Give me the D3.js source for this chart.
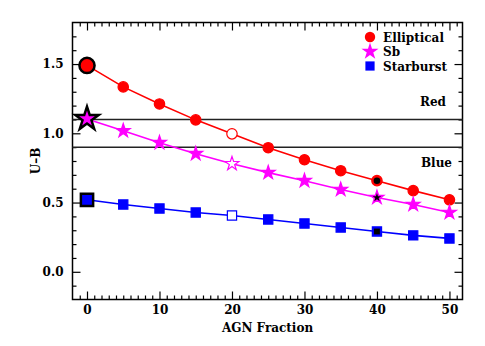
<!doctype html>
<html>
<head>
<script src="https://d3js.org/d3.v7.min.js"></script>
<style>
  body { margin: 0; background: #fff; }
  text { font-family: "DejaVu Serif", serif; font-weight: bold; }
  .domain { display: none; }
</style>
</head>
<body>
<svg id="chart" width="485" height="346"></svg>
<script>
// AGN fraction (%) and U-B colour for each template
var agnFraction = [0, 5, 10, 15, 20, 25, 30, 35, 40, 45, 50];
var elliptical = [1.49, 1.335, 1.212, 1.097, 0.996, 0.896, 0.809, 0.73, 0.658, 0.586, 0.52];
var sb = [1.104, 1.018, 0.932, 0.853, 0.78, 0.716, 0.658, 0.594, 0.536, 0.486, 0.428];
var starburst = [0.52, 0.486, 0.457, 0.428, 0.406, 0.378, 0.349, 0.32, 0.291, 0.263, 0.241];
var redLimit = 1.1, blueLimit = 0.9;
var xTickLabels = [0, 10, 20, 30, 40, 50];
var yTickLabels = [0.0, 0.5, 1.0, 1.5];
var legendNames = ["Elliptical", "Sb", "Starburst"];

var svg = d3.select("#chart");
var pLeft = 72.5, pRight = 462.5, pTop = 22.5, pBottom = 299.5;

var x = d3.scaleLinear().domain([-2, 51.8]).range([pLeft, pRight]);
var y = d3.scaleLinear().domain([-0.2, 1.8]).range([pBottom, pTop]);

var xMinor = d3.range(-1, 52, 1).filter(d => d % 10 !== 0);
var yMinor = d3.range(-1, 18, 1).map(d => d / 10).filter(d => Math.round(d * 10) % 5 !== 0);

function ticks(axis, vals, len, fmt, offset) {
  return axis.tickValues(vals).tickSizeInner(-len).tickSizeOuter(0).tickFormat(fmt).tickPadding(offset);
}

// bottom
svg.append("g").attr("transform", "translate(0," + pBottom + ")")
  .call(ticks(d3.axisBottom(x), xTickLabels, 8, d3.format("d"), 6));
svg.append("g").attr("transform", "translate(0," + pBottom + ")")
  .call(ticks(d3.axisBottom(x), xMinor, 4, "", 0));
// top
svg.append("g").attr("transform", "translate(0," + pTop + ")")
  .call(ticks(d3.axisTop(x), xTickLabels, 8, "", 0));
svg.append("g").attr("transform", "translate(0," + pTop + ")")
  .call(ticks(d3.axisTop(x), xMinor, 4, "", 0));
// left
svg.append("g").attr("transform", "translate(" + pLeft + ",0)")
  .call(ticks(d3.axisLeft(y), yTickLabels, 8, d3.format(".1f"), 9));
svg.append("g").attr("transform", "translate(" + pLeft + ",0)")
  .call(ticks(d3.axisLeft(y), yMinor, 4, "", 0));
// right
svg.append("g").attr("transform", "translate(" + pRight + ",0)")
  .call(ticks(d3.axisRight(y), yTickLabels, 8, "", 0));
svg.append("g").attr("transform", "translate(" + pRight + ",0)")
  .call(ticks(d3.axisRight(y), yMinor, 4, "", 0));

svg.selectAll(".tick line").attr("stroke", "#000").attr("stroke-width", 1.2);
svg.selectAll(".tick text").attr("fill", "#000").style("font-size", "12px");

svg.append("rect")
  .attr("x", pLeft).attr("y", pTop)
  .attr("width", pRight - pLeft).attr("height", pBottom - pTop)
  .attr("fill", "none").attr("stroke", "#000").attr("stroke-width", 1.5);

// colour divide lines
[redLimit, blueLimit].forEach(function(v) {
  svg.append("line")
    .attr("x1", pLeft).attr("x2", pRight)
    .attr("y1", y(v)).attr("y2", y(v))
    .attr("stroke", "#222").attr("stroke-width", 1.5);
});
svg.append("text").attr("x", 446).attr("y", 106).attr("text-anchor", "end")
  .style("font-size", "12px").text("Red");
svg.append("text").attr("x", 452).attr("y", 167).attr("text-anchor", "end")
  .style("font-size", "12px").text("Blue");

// axis titles
svg.append("text").attr("x", (pLeft + pRight) / 2).attr("y", 332).attr("text-anchor", "middle")
  .style("font-size", "12px").text("AGN Fraction");
svg.append("text").attr("transform", "translate(40," + y(0.8) + ") rotate(-90)")
  .attr("text-anchor", "middle").style("font-size", "12px").text("U\u2013B");

var series = [
  { name: legendNames[0], vals: elliptical, color: "#ff0000", sym: d3.symbolCircle, size: 85, big: 180 },
  { name: legendNames[1], vals: sb, color: "#ff00ff", sym: d3.symbolStar, size: 60, big: 170 },
  { name: legendNames[2], vals: starburst, color: "#0000ff", sym: d3.symbolSquare, size: 85, big: 150 }
];

var line = d3.line().x((d, i) => x(agnFraction[i])).y(d => y(d));

series.forEach(function(s) {
  svg.append("path").datum(s.vals).attr("d", line)
    .attr("fill", "none").attr("stroke", s.color).attr("stroke-width", 1.6);

  var g = svg.append("g");
  g.selectAll("path.pt").data(s.vals).enter().append("path")
    .attr("class", "pt")
    .attr("transform", (d, i) => "translate(" + x(agnFraction[i]) + "," + y(d) + ")")
    .attr("d", (d, i) => d3.symbol().type(s.sym).size(agnFraction[i] === 0 ? s.big : s.size)())
    .attr("fill", (d, i) => agnFraction[i] === 20 ? "#fff" : s.color)
    .attr("stroke", (d, i) => agnFraction[i] === 0 ? "#000" : s.color)
    .attr("stroke-width", (d, i) => agnFraction[i] === 0 ? 2.5 : 1.2);

  // black inner marker at 40 per cent
  var i40 = agnFraction.indexOf(40);
  svg.append("path")
    .attr("transform", "translate(" + x(40) + "," + y(s.vals[i40]) + ")")
    .attr("d", d3.symbol().type(s.sym).size(s.size * 0.4)())
    .attr("fill", "#000");
});

// legend
var lg = svg.append("g").attr("transform", "translate(370,37)");
series.forEach(function(s, i) {
  lg.append("path").attr("transform", "translate(0," + (i * 14.5) + ")")
    .attr("d", d3.symbol().type(s.sym).size(s.sym === d3.symbolStar ? 90 : s.size)()).attr("fill", s.color);
  lg.append("text").attr("x", 13).attr("y", i * 14.5 + 4.5)
    .style("font-size", "12px").text(s.name);
});
</script>
</body>
</html>
